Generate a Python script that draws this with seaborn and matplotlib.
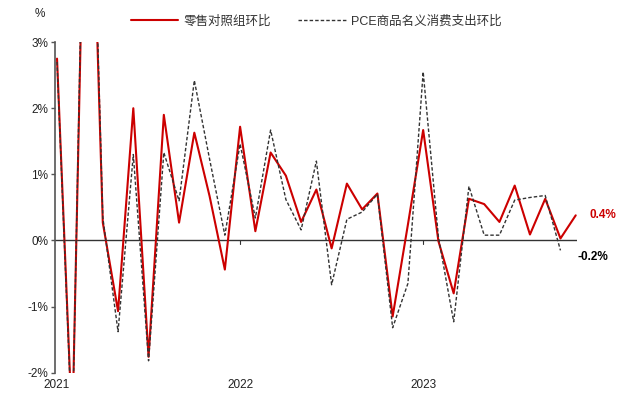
import matplotlib
matplotlib.use('Agg')
import matplotlib.pyplot as plt
import seaborn as sns
import pandas as pd
import numpy as np

# monthly data, Jan 2021 - Nov 2023 (%, m/m)
months = pd.period_range('2021-01', '2023-11', freq='M').strftime('%Y-%m').tolist()
retail = [2.75, -2.9, 8.0, 0.27, -1.07, 2.0, -1.76, 1.90, 0.27, 1.63, 0.67, -0.44,
          1.72, 0.14, 1.33, 0.98, 0.28, 0.77, -0.12, 0.86, 0.47, 0.71, -1.15, 0.24,
          1.67, -0.01, -0.80, 0.63, 0.55, 0.28, 0.83, 0.09, 0.63, 0.03, 0.38]
pce = [2.7, -3.0, 8.5, 0.35, -1.38, 1.30, -1.82, 1.33, 0.60, 2.42, 1.23, 0.08,
       1.46, 0.34, 1.67, 0.62, 0.16, 1.20, -0.67, 0.32, 0.43, 0.70, -1.32, -0.65,
       2.55, 0.05, -1.23, 0.82, 0.08, 0.08, 0.61, 0.65, 0.68, -0.15]
year_labels = ['2021', '2022', '2023']
yticks = [-2, -1, 0, 1, 2, 3]

retail_name = '零售对照组环比'
pce_name = 'PCE商品名义消费支出环比'

df_r = pd.DataFrame({'idx': np.arange(len(retail)), 'val': retail})
df_p = pd.DataFrame({'idx': np.arange(len(pce)), 'val': pce})

sns.set_style('white')
plt.rcParams['font.family'] = ['Liberation Sans', 'Noto Sans CJK SC']
plt.rcParams['axes.unicode_minus'] = False

fig = plt.figure(figsize=(6.29, 3.98), dpi=100)
ax = fig.add_axes([0.088, 0.0636, 0.829, 0.8306])

red = '#CC0000'
sns.lineplot(data=df_r, x='idx', y='val', ax=ax, color=red, linewidth=1.5,
             label=retail_name, zorder=3)
sns.lineplot(data=df_p, x='idx', y='val', ax=ax, color='#333333', linewidth=1.0,
             linestyle=(0, (2.5, 1.5)), label=pce_name, zorder=4)

ax.axhline(0, color='#333333', linewidth=1.0, zorder=2)

ax.set_xlim(-0.11, 34.07)
ax.set_ylim(-2, 3)
ax.set_yticks(yticks)
ax.set_yticklabels([f'{t}%' for t in yticks], fontsize=8.5, color='#222222')
ax.tick_params(axis='y', direction='out', length=3, width=1, color='#555555', pad=2, left=True)

# x ticks: small marks on the zero line, year labels at the bottom
ax.spines['bottom'].set_visible(False)
ax.spines['top'].set_visible(False)
ax.spines['right'].set_visible(False)
ax.spines['left'].set_color('#555555')
ax.spines['left'].set_linewidth(1.2)
ax.set_xticks([])
for k, lab in enumerate(year_labels):
    ax.text(12 * k, -0.037, lab, transform=ax.get_xaxis_transform(),
            ha='center', va='center', fontsize=8.5, color='#222222')
    if k > 0:
        ax.plot([12 * k, 12 * k], [0, -0.06], color='#333333', linewidth=0.8,
                zorder=2)

ax.set_xlabel('')
ax.set_ylabel('')
fig.text(0.063, 0.965, '%', fontsize=8.5, ha='center', va='center', color='#222222')

# end labels
ax.annotate('0.4%', xy=(len(retail) - 1, retail[-1]), xytext=(10, 0),
            textcoords='offset points', color=red, fontsize=8.5, fontweight='bold',
            va='center', ha='left', annotation_clip=False)
ax.annotate('-0.2%', xy=(len(pce) - 1, pce[-1]), xytext=(12, -5),
            textcoords='offset points', color='black', fontsize=8.5, fontweight='bold',
            va='center', ha='left', annotation_clip=False)

leg = ax.legend(loc='center', bbox_to_anchor=(0.5, 1.062), ncol=2, frameon=False,
                fontsize=9, handlelength=3.8, columnspacing=2.2, handletextpad=0.4)
for t in leg.get_texts():
    t.set_color('#333333')

fig.savefig('out.png', dpi=100)
